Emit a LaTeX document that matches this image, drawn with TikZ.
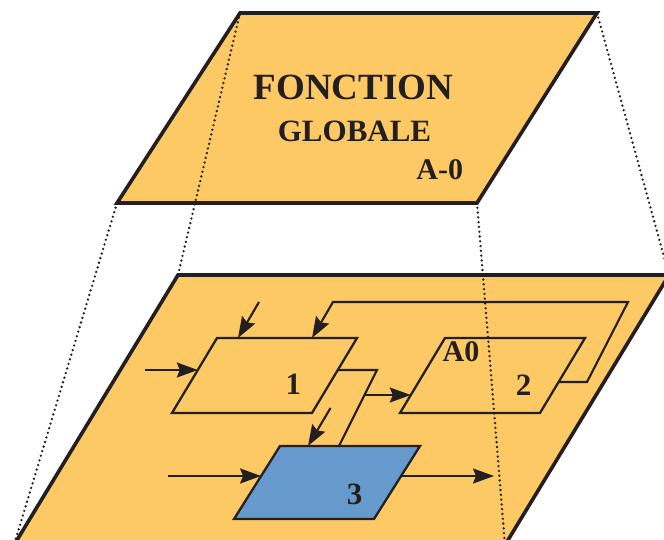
\documentclass[tikz,border=0pt]{standalone}
\usepackage{fontspec}
\setmainfont{Liberation Serif}
\usetikzlibrary{arrows.meta,calc}
\definecolor{orangefill}{HTML}{FDC965}
\definecolor{bluefill}{HTML}{6699CC}
\definecolor{ink}{HTML}{231F20}
\begin{document}
\begin{tikzpicture}[x=1pt,y=-1pt,
  plane/.style={draw=ink,fill=orangefill,line width=3.6pt,line join=miter},
  boxa/.style={draw=ink,fill=orangefill,line width=2.3pt,line join=miter},
  boxb/.style={draw=ink,fill=bluefill,line width=2.3pt,line join=miter},
  conn/.style={draw=ink,line width=2.1pt},
  arr/.style={conn,-{Stealth[length=21pt,width=15pt,inset=3pt]}},
  dots/.style={draw=ink,line width=2.6pt,line cap=round,dash pattern=on 0pt off 4.8pt},
  lbl/.style={anchor=base,inner sep=0pt,text=ink,font=\bfseries\fontsize{30}{34}\selectfont}]
\useasboundingbox (0,0) rectangle (664,540);
\clip (0,0) rectangle (664,540);
% top plane
\coordinate (tTL) at (240,13); \coordinate (tTR) at (597,13);
\coordinate (tBR) at (477,203); \coordinate (tBL) at (117,203);
% bottom plane
\coordinate (bTL) at (178,275); \coordinate (bTR) at (669,275);
\coordinate (bBR) at (505,545); \coordinate (bBL) at (14,545);
\path[plane] (tTL) -- (tTR) -- (tBR) -- (tBL) -- cycle;
\path[plane] (bTL) -- (bTR) -- (bBR) -- (bBL) -- cycle;
% boxes
\coordinate (aTL) at (217,338); \coordinate (aTR) at (357,338);
\coordinate (aBR) at (312,413); \coordinate (aBL) at (172,413);
\coordinate (cTL) at (445,338); \coordinate (cTR) at (585,338);
\coordinate (cBR) at (540,413); \coordinate (cBL) at (400,413);
\coordinate (dTL) at (280,446); \coordinate (dTR) at (420,446);
\coordinate (dBR) at (374,519); \coordinate (dBL) at (234,519);
\path[boxa] (aTL) -- (aTR) -- (aBR) -- (aBL) -- cycle;
\path[boxa] (cTL) -- (cTR) -- (cBR) -- (cBL) -- cycle;
\path[boxb] (dTL) -- (dTR) -- (dBR) -- (dBL) -- cycle;
% connector points
\coordinate (in1s) at (145,370); \coordinate (in1e) at (197.8,370);
\coordinate (c1s) at (259,302); \coordinate (c1e) at (238,338);
\coordinate (fb0) at (558.6,382); \coordinate (fb1) at (587,382);
\coordinate (fb2) at (628,302); \coordinate (fb3) at (333,302);
\coordinate (fbe) at (312,338);
\coordinate (o1s) at (337.8,370); \coordinate (o1a) at (377,370);
\coordinate (o1e) at (339,446);
\coordinate (brs) at (364.5,395); \coordinate (bre) at (410.8,395);
\coordinate (c3s) at (330.5,408); \coordinate (c3e) at (308,446);
\coordinate (in3s) at (168,476); \coordinate (in3e) at (261.1,476);
\coordinate (o3s) at (401.1,476); \coordinate (o3e) at (494,476);
\draw[arr] (in1s) -- (in1e);
\draw[arr] (c1s) -- (c1e);
\draw[arr,line join=miter] (fb0) -- (fb1) -- (fb2) -- (fb3) -- (fbe);
\draw[conn,line join=miter] (o1s) -- (o1a) -- (o1e);
\draw[arr] (brs) -- (bre);
\draw[arr] (c3s) -- (c3e);
\draw[arr] (in3s) -- (in3e);
\draw[arr] (o3s) -- (o3e);
% labels
\node[lbl,font=\bfseries\fontsize{37}{40}\selectfont] (fonc) at (353.5,100) {FONCTION};
\node[lbl,font=\bfseries\fontsize{31}{34}\selectfont] (glob) at (354.5,141.7) {GLOBALE};
\node[lbl] (am0) at (439.7,180) {A-0};
\node[lbl] (a0) at (461,361.7) {A0};
\node[lbl,font=\bfseries\fontsize{31}{34}\selectfont] (n1) at (293.3,394) {1};
\node[lbl,font=\bfseries\fontsize{31}{34}\selectfont] (n2) at (523.7,395) {2};
\node[lbl,font=\bfseries\fontsize{31}{34}\selectfont] (n3) at (354.5,504) {3};
% dotted projection lines
\draw[dots] (tTL) -- (bTL);
\draw[dots] (tBL) -- (bBL);
\draw[dots] (tBR) -- (bBR);
\draw[dots] (tTR) -- (bTR);
\end{tikzpicture}
\end{document}
